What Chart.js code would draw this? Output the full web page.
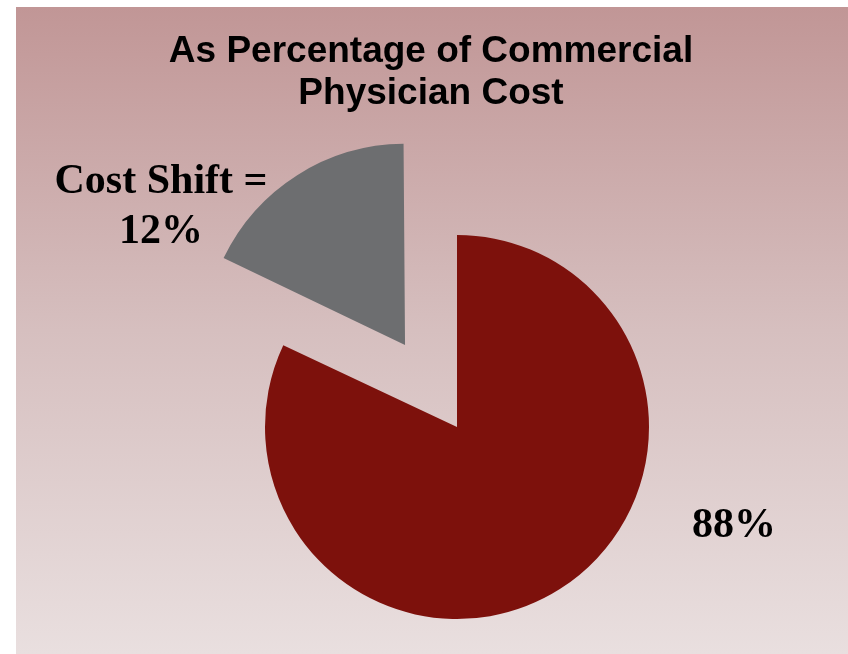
<!DOCTYPE html>
<html>
<head>
<meta charset="utf-8">
<script src="https://cdn.jsdelivr.net/npm/chart.js@4"></script>
<style>
  html, body { margin: 0; padding: 0; background: #ffffff; }
  #wrap { position: relative; width: 848px; height: 654px; }
  #bg {
    position: absolute; left: 16px; top: 7px; width: 832px; height: 647px;
    background: linear-gradient(to bottom, #c19696 0%, #d6bfbf 50%, #e9dfdf 100%);
  }
  #pieChart { position: absolute; left: 0; top: 0; }
</style>
</head>
<body>
<div id="wrap">
  <div id="bg"></div>
  <canvas id="pieChart" width="848" height="654"></canvas>
</div>
<script>
const titleLines = ["As Percentage of Commercial", "Physician Cost"];
const categories = ["Commercial physician cost", "Cost Shift"];
// slice sizes as drawn in the picture
const sliceValues = [82, 18];
const sliceLabels = [["88%"], ["Cost Shift =", "12%"]];
const sliceColors = ["#7d110c", "#6d6e70"];

const pieCanvas = document.getElementById("pieChart");

// draws the title and the slice labels as text on the canvas
const textPlugin = {
  id: "slideText",
  afterDraw(chart) {
    const ctx = chart.ctx;
    ctx.save();
    ctx.fillStyle = "#000000";
    ctx.textAlign = "center";
    ctx.textBaseline = "alphabetic";

    ctx.font = "bold 37px 'Liberation Sans', Arial, sans-serif";
    ctx.fillText(titleLines[0], 431, 62);
    ctx.fillText(titleLines[1], 431, 104);

    ctx.font = "bold 42px 'Liberation Serif', 'Times New Roman', serif";
    ctx.fillText(sliceLabels[0][0], 734, 537);
    ctx.fillText(sliceLabels[1][0], 161, 193);
    ctx.fillText(sliceLabels[1][1], 161, 243);
    ctx.restore();
  },
};

const chart = new Chart(pieCanvas, {
  type: "pie",
  data: {
    labels: categories,
    datasets: [
      {
        data: sliceValues,
        backgroundColor: sliceColors,
        borderWidth: 0,
        offset: [0, 388],
        clip: false,
      },
    ],
  },
  options: {
    responsive: false,
    animation: false,
    radius: 192,
    layout: {
      padding: { left: 66, right: 0, top: 200, bottom: 0 },
    },
    plugins: {
      legend: { display: false },
      title: { display: false },
      tooltip: { enabled: false },
    },
  },
  plugins: [textPlugin],
});
</script>
</body>
</html>
